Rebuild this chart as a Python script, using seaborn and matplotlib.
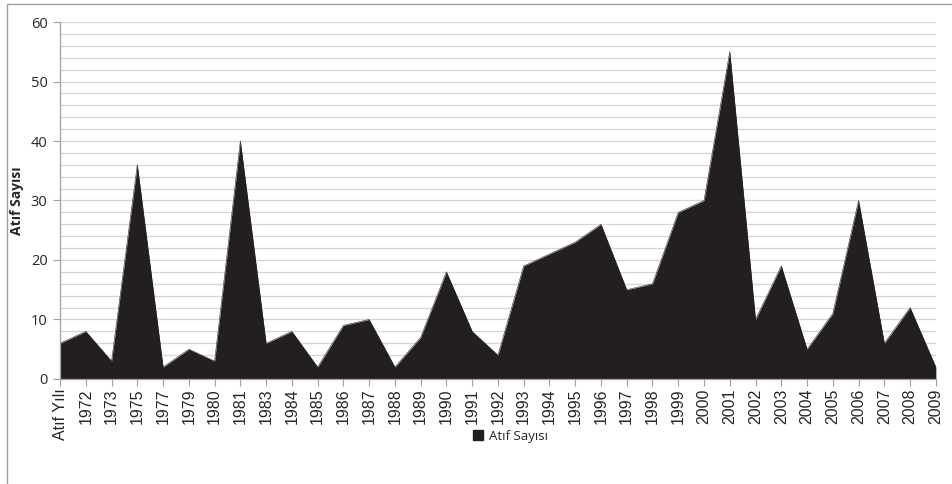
import matplotlib
matplotlib.use("Agg")
import matplotlib.pyplot as plt
import seaborn as sns
import pandas as pd
import numpy as np
from matplotlib.lines import Line2D
from matplotlib.patches import Rectangle

categories = ["Atıf Yılı", "1972", "1973", "1975", "1977", "1979", "1980", "1981", "1983",
              "1984", "1985", "1986", "1987", "1988", "1989", "1990", "1991", "1992",
              "1993", "1994", "1995", "1996", "1997", "1998", "1999", "2000", "2001",
              "2002", "2003", "2004", "2005", "2006", "2007", "2008", "2009"]
values = [6, 8, 3, 36, 2, 5, 3, 40, 6, 8, 2, 9, 10, 2, 7, 18, 8, 4,
          19, 21, 23, 26, 15, 16, 28, 30, 55, 10, 19, 5, 11, 30, 6, 12, 2]
series_name = "Atıf Sayısı"
y_ticks = [0, 10, 20, 30, 40, 50, 60]

df = pd.DataFrame({"pos": np.arange(len(categories)), "val": values, "cat": categories})

sns.set_style("white")
plt.rcParams["font.family"] = ["Open Sans", "DejaVu Sans"]

fig = plt.figure(figsize=(9.53, 4.84), dpi=100)
ax = fig.add_axes([0.063, 0.217, 0.919, 0.7375])

fill_color = "#231f20"
for y in np.arange(2, 61, 2):
    ax.axhline(y, color="#d6d6d6", lw=0.9, zorder=0)

sns.lineplot(data=df, x="pos", y="val", ax=ax, color=fill_color, lw=0.4, zorder=2)
ax.fill_between(df["pos"], 0, df["val"], color=fill_color, lw=0, zorder=2)

ax.set_xlim(0, len(categories) - 1)
ax.set_ylim(0, 60)
ax.set_xticks(df["pos"])
ax.set_xticklabels(categories, rotation=90, fontsize=11.5, family=["Liberation Sans", "DejaVu Sans"])
ax.set_yticks(y_ticks)
ax.set_yticklabels([str(t) for t in y_ticks], fontsize=10.5)
ax.tick_params(axis="x", length=5, width=0.8, color="#a0a0a0", pad=2, direction="out", bottom=True)
ax.tick_params(axis="y", length=5, width=0.8, color="#a0a0a0", pad=4, direction="out", left=True)

for s in ["top", "right"]:
    ax.spines[s].set_visible(False)
for s in ["left", "bottom"]:
    ax.spines[s].set_color("#a0a0a0")
    ax.spines[s].set_linewidth(0.9)
    ax.spines[s].set_zorder(3)

ax.set_xlabel("")
ax.set_ylabel(series_name, fontsize=10, fontweight="bold")
ax.yaxis.set_label_coords(-0.041, 0.5)

handle = Line2D([], [], marker="s", color="none", markerfacecolor=fill_color,
                markeredgecolor=fill_color, markersize=7)
fig.legend([handle], [series_name], loc="center", bbox_to_anchor=(0.535, 0.098),
           frameon=False, fontsize=9.5, handletextpad=0.3, handlelength=1.0)

fig.patches.append(Rectangle((0.007, -0.05), 1.1, 1.042, transform=fig.transFigure,
                             fill=False, edgecolor="#a0a0a0", lw=1.0))

fig.savefig("out.png", dpi=100)
